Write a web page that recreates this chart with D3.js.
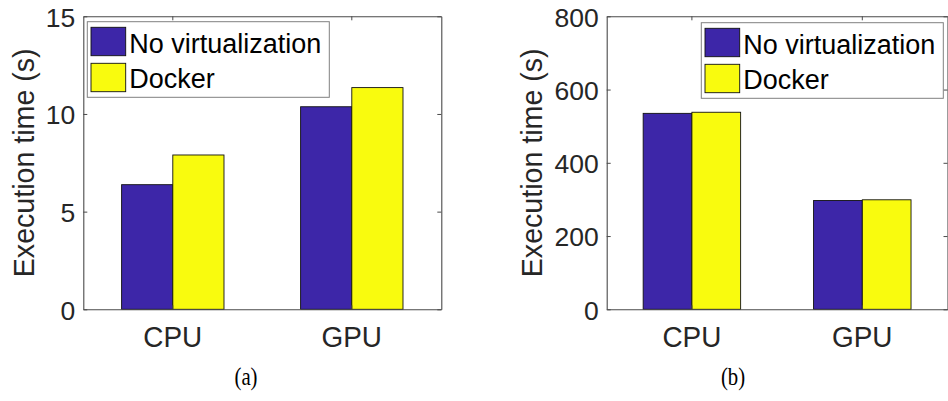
<!DOCTYPE html>
<html>
<head>
<meta charset="utf-8">
<script src="https://cdn.jsdelivr.net/npm/d3@7/dist/d3.min.js"></script>
<style>
  html, body { margin: 0; padding: 0; background: #fff; }
  svg { display: block; }
  text { font-family: "Liberation Sans", Arial, Helvetica, sans-serif; }
</style>
</head>
<body>
<svg id="fig" width="948" height="401"></svg>
<script>
// Categories and series
const categories = ["CPU", "GPU"];
const seriesNames = ["No virtualization", "Docker"];
const seriesColors = ["#3d26a8", "#f9fb0e"];

// Panel (a): execution time in seconds
const valuesA_noVirt = [6.38, 10.37];
const valuesA_docker = [7.9, 11.35];
const ticksA = [0, 5, 10, 15];
const domainA = [0, 15];

// Panel (b): execution time in seconds
const valuesB_noVirt = [535, 297];
const valuesB_docker = [538, 299];
const ticksB = [0, 200, 400, 600, 800];
const domainB = [0, 800];

const yLabel = "Execution time (s)";
const captions = ["(a)", "(b)"];

const svg = d3.select("#fig");
const axisColor = "#4a4a4a";
const textColor = "#262626";

function drawPanel(cfg) {
  const { left, right, top, bottom, values, ticks, domain, legendSide, yLabelX, caption, captionX } = cfg;

  const x = d3.scaleBand().domain(categories).range([left, right]).paddingInner(0).paddingOuter(0);
  const barW = x.step() * 0.286;
  const xs = d3.scaleBand().domain(seriesNames).range([-barW, barW]);
  const y = d3.scaleLinear().domain(domain).range([bottom, top]);

  const g = svg.append("g");

  // bars
  const rows = [];
  categories.forEach((c, i) => {
    seriesNames.forEach((s, j) => rows.push({ c, s, j, v: values[j][i] }));
  });
  g.selectAll("rect.bar").data(rows).enter().append("rect")
    .attr("class", "bar")
    .attr("x", d => x(d.c) + x.bandwidth() / 2 + xs(d.s))
    .attr("width", xs.bandwidth())
    .attr("y", d => y(d.v))
    .attr("height", d => y(0) - y(d.v))
    .attr("fill", d => seriesColors[d.j])
    .attr("stroke", "#111")
    .attr("stroke-width", 0.9);

  // box axes with inward ticks
  const tick = 4;
  const yl = g.append("g").attr("transform", `translate(${left},0)`)
    .call(d3.axisLeft(y).tickValues(ticks).tickSizeInner(-tick).tickSizeOuter(0).tickPadding(8));
  const yr = g.append("g").attr("transform", `translate(${right},0)`)
    .call(d3.axisRight(y).tickValues(ticks).tickSizeInner(-tick).tickSizeOuter(0).tickFormat(""));
  const xb = g.append("g").attr("transform", `translate(0,${bottom})`)
    .call(d3.axisBottom(x).tickSizeInner(-tick).tickSizeOuter(0).tickPadding(16));
  const xt = g.append("g").attr("transform", `translate(0,${top})`)
    .call(d3.axisTop(x).tickSizeInner(-tick).tickSizeOuter(0).tickFormat(""));

  [yl, yr, xb, xt].forEach(a => {
    a.selectAll("path.domain").attr("stroke", axisColor).attr("stroke-width", 1.1);
    a.selectAll(".tick line").attr("stroke", axisColor).attr("stroke-width", 1);
  });
  yl.selectAll(".tick text").attr("font-size", 26.5).attr("fill", textColor)
    .attr("dy", "0.37em").style("font-family", "Liberation Sans, Arial, sans-serif");
  xb.selectAll(".tick text").attr("font-size", 30).attr("fill", textColor)
    .attr("dy", "0.71em").attr("transform", "scale(0.93,1)")
    .style("font-family", "Liberation Sans, Arial, sans-serif");

  // y axis title
  g.append("text")
    .attr("transform", `translate(${yLabelX},${(top + bottom) / 2}) rotate(-90)`)
    .attr("text-anchor", "middle")
    .attr("font-size", 28.6)
    .attr("fill", textColor)
    .text(yLabel);

  // legend
  const lw = 242, lh = 75.6;
  const lx = legendSide === "left" ? left + 4 : right - 4.2 - lw;
  const ly = top + (legendSide === "left" ? 5.4 : 6.4);
  const lg = g.append("g").attr("transform", `translate(${lx},${ly})`);
  lg.append("rect").attr("width", lw).attr("height", lh)
    .attr("fill", "#fff").attr("stroke", "#808080").attr("stroke-width", 1);
  seriesNames.forEach((s, j) => {
    lg.append("rect")
      .attr("x", 3.7).attr("y", 5.6 + j * 36)
      .attr("width", 34.7).attr("height", 28.4)
      .attr("fill", seriesColors[j]).attr("stroke", "#111").attr("stroke-width", 0.9);
    lg.append("text")
      .attr("x", 42).attr("y", 31 + j * 35.6)
      .attr("font-size", 27).attr("fill", "#000")
      .text(s);
  });

  // caption (narrow serif)
  svg.append("text")
    .attr("transform", `translate(${captionX},385) scale(0.8,1)`)
    .attr("text-anchor", "middle")
    .attr("font-size", 26)
    .style("font-family", "Liberation Serif, 'Times New Roman', serif")
    .attr("fill", "#000")
    .text(caption);
}

drawPanel({
  left: 83.3, right: 441.3, top: 16.3, bottom: 309.3,
  values: [valuesA_noVirt, valuesA_docker], ticks: ticksA, domain: domainA,
  legendSide: "left", yLabelX: 33.5, caption: captions[0], captionX: 246
});

drawPanel({
  left: 606.7, right: 947.5, top: 16.3, bottom: 309.3,
  values: [valuesB_noVirt, valuesB_docker], ticks: ticksB, domain: domainB,
  legendSide: "right", yLabelX: 542, caption: captions[1], captionX: 733
});
</script>
</body>
</html>
